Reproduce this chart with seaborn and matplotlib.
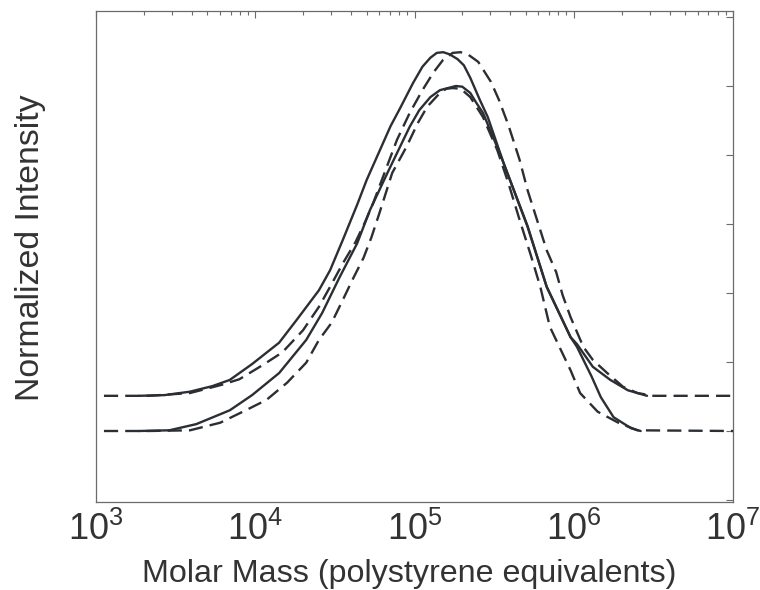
import numpy as np
import pandas as pd
import matplotlib
matplotlib.use("Agg")
import matplotlib.pyplot as plt
import seaborn as sns
from matplotlib.ticker import LogLocator, FixedLocator, NullFormatter

# ---- data (log10 molar mass, normalized intensity with offsets) ----
# upper pair (baseline 1.5): solid and dashed
us_logM = [3.27, 3.43, 3.59, 3.73, 3.84, 3.98, 4.15, 4.26, 4.40, 4.47, 4.55, 4.64,
           4.70, 4.85, 4.91, 4.99, 5.05, 5.10, 5.14, 5.18, 5.22, 5.27, 5.31, 5.35,
           5.41, 5.46, 5.56, 5.71, 5.83, 5.98, 6.02, 6.12, 6.23, 6.34, 6.46]
us_int = [1.51, 1.52, 1.57, 1.65, 1.74, 1.97, 2.28, 2.61, 3.04, 3.33, 3.77, 4.28,
          4.64, 5.42, 5.68, 6.04, 6.28, 6.41, 6.48, 6.49, 6.46, 6.39, 6.30, 6.12,
          5.80, 5.55, 4.88, 3.96, 3.09, 2.36, 2.26, 1.93, 1.74, 1.59, 1.51]

ud_logM = [3.05, 3.33, 3.59, 3.79, 3.90, 4.05, 4.17, 4.30, 4.40, 4.47, 4.55, 4.63,
           4.69, 4.74, 4.80, 4.89, 4.97, 5.05, 5.12, 5.18, 5.24, 5.29, 5.34, 5.40,
           5.48, 5.53, 5.59, 5.66, 5.71, 5.79, 5.83, 5.89, 5.93, 5.98, 6.06, 6.12,
           6.21, 6.31, 6.40, 6.50, 7.00]
ud_int = [1.51, 1.51, 1.55, 1.67, 1.75, 1.96, 2.14, 2.46, 2.80, 3.09, 3.43, 3.74,
          4.03, 4.30, 4.67, 5.22, 5.61, 5.94, 6.20, 6.38, 6.48, 6.49, 6.45, 6.35,
          6.06, 5.80, 5.43, 4.93, 4.49, 3.91, 3.62, 3.30, 2.97, 2.65, 2.22, 2.03,
          1.84, 1.64, 1.55, 1.51, 1.51]

# lower pair (baseline 1.0): solid and dashed
ls_logM = [3.27, 3.46, 3.63, 3.84, 3.98, 4.15, 4.32, 4.42, 4.53, 4.64, 4.72, 4.83,
           4.97, 5.03, 5.10, 5.16, 5.26, 5.30, 5.35, 5.39, 5.43, 5.54, 5.71, 5.83,
           5.98, 6.02, 6.11, 6.17, 6.25, 6.36, 6.42]
ls_int = [1.00, 1.01, 1.10, 1.30, 1.52, 1.84, 2.32, 2.71, 3.23, 3.72, 4.20, 4.74,
          5.41, 5.65, 5.84, 5.94, 6.00, 5.99, 5.90, 5.75, 5.61, 5.00, 3.97, 3.09,
          2.36, 2.22, 1.80, 1.49, 1.20, 1.04, 1.00]

ld_logM = [3.05, 3.33, 3.59, 3.78, 3.94, 4.07, 4.20, 4.32, 4.40, 4.48, 4.55, 4.61,
           4.68, 4.73, 4.78, 4.86, 4.95, 5.02, 5.08, 5.16, 5.20, 5.24, 5.29, 5.35,
           5.43, 5.52, 5.59, 5.66, 5.73, 5.79, 5.85, 5.92, 5.98, 6.04, 6.15, 6.28,
           6.40, 7.00]
ld_int = [1.00, 1.00, 1.01, 1.12, 1.30, 1.45, 1.70, 1.99, 2.32, 2.57, 2.90, 3.19,
          3.51, 3.81, 4.16, 4.74, 5.12, 5.46, 5.70, 5.90, 5.96, 5.97, 5.96, 5.84,
          5.55, 5.07, 4.59, 4.06, 3.55, 3.09, 2.51, 2.17, 1.88, 1.55, 1.28, 1.12,
          1.01, 1.00]

x_ticks = [1e3, 1e4, 1e5, 1e6, 1e7]
x_tick_labels = [r"$\mathdefault{10^{3}}$", r"$\mathdefault{10^{4}}$", r"$\mathdefault{10^{5}}$",
                 r"$\mathdefault{10^{6}}$", r"$\mathdefault{10^{7}}$"]
y_ticks = [0, 1, 2, 3, 4, 5, 6, 7]

# ---- style ----
sns.set_theme(style="white")
plt.rcParams["font.family"] = ["Liberation Sans", "DejaVu Sans"]
plt.rcParams["mathtext.default"] = "regular"

line_color = "#2b2e33"
frame_color = "#6b6b6b"
text_color = "#333333"

fig = plt.figure(figsize=(7.6, 5.9), dpi=100)
ax = fig.add_axes([96 / 760, 88 / 590, 637 / 760, 491 / 590])
ax.set_xscale("log")

lw = 1.7
dash = (6.0, 3.0)

def draw(logm, inten, dashed):
    df = pd.DataFrame({"M": np.power(10.0, logm), "I": inten})
    sns.lineplot(data=df, x="M", y="I", ax=ax, color=line_color, sort=False,
                 estimator=None, linewidth=lw)
    line = ax.lines[-1]
    if dashed:
        line.set_dashes(dash)
    line.set_solid_capstyle("round")
    line.set_solid_joinstyle("round")

draw(us_logM, us_int, False)
draw(ud_logM, ud_int, True)
draw(ls_logM, ls_int, False)
draw(ld_logM, ld_int, True)

ax.set_xlim(1e3, 1e7)
ax.set_ylim(-2 / 69, 489 / 69)

ax.xaxis.set_major_locator(FixedLocator(x_ticks))
ax.set_xticklabels(x_tick_labels)
ax.xaxis.set_minor_locator(LogLocator(base=10, subs=np.arange(2, 10), numticks=20))
ax.xaxis.set_minor_formatter(NullFormatter())
ax.yaxis.set_major_locator(FixedLocator(y_ticks))
ax.set_yticklabels([])

ax.tick_params(axis="both", which="both", direction="in", top=True, right=True,
               color=frame_color, width=0.8)
ax.tick_params(axis="both", which="major", length=5)
ax.tick_params(axis="x", which="minor", length=3)
ax.tick_params(axis="x", which="major", labelsize=26, labelcolor=text_color, pad=7)

for s in ax.spines.values():
    s.set_color(frame_color)
    s.set_linewidth(0.9)

ax.set_xlabel("Molar Mass (polystyrene equivalents)", fontsize=23.2, color=text_color,
              labelpad=8)
ax.xaxis.label.set_x(0.492)
ax.set_ylabel("Normalized Intensity", fontsize=24.4, color=text_color)
ax.yaxis.set_label_coords(-0.078, 0.518)

fig.savefig("out.png", dpi=100)
